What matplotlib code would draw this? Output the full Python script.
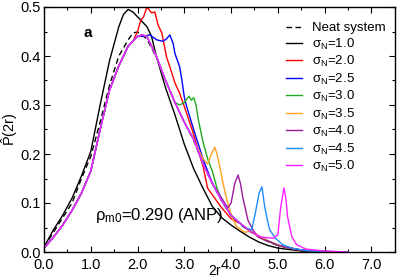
import matplotlib
matplotlib.use("Agg")
import matplotlib.pyplot as plt
from matplotlib.ticker import MultipleLocator, FormatStrFormatter

plt.rcParams['font.family'] = ['Liberation Sans', 'DejaVu Sans']
plt.rcParams['mathtext.fontset'] = 'custom'
plt.rcParams['mathtext.rm'] = 'Liberation Sans'
plt.rcParams['mathtext.it'] = 'Liberation Sans'
plt.rcParams['mathtext.bf'] = 'Liberation Sans:bold'

# ---- data ----
# shared profile of the high-sigma curves (before/after their own features)
base_x = [0.0, 0.2, 0.4, 0.6, 0.8, 1.0, 1.2, 1.4, 1.6, 1.8, 2.0, 2.1, 2.2, 2.4, 2.6, 2.8,
          3.0, 3.2, 3.4, 3.6, 3.8, 4.0, 4.2, 4.4, 4.6, 4.8, 5.0, 5.2, 5.5, 6.0, 6.5]
base_y = [0.008, 0.03, 0.055, 0.085, 0.12, 0.165, 0.25, 0.33, 0.38, 0.42, 0.44, 0.443, 0.44, 0.40, 0.35, 0.305,
          0.265, 0.23, 0.18, 0.14, 0.105, 0.075, 0.058, 0.043, 0.032, 0.022, 0.014, 0.009, 0.004, 0.001, 0.0]

neat_x = [0.0, 0.2, 0.4, 0.6, 0.8, 1.0, 1.2, 1.4, 1.6, 1.8, 1.9, 2.0, 2.2, 2.4, 2.6, 2.8,
          3.0, 3.2, 3.4, 3.6, 3.8, 4.0, 4.2, 4.4, 4.6, 4.8, 5.0, 5.5, 6.0]
neat_y = [0.01, 0.04, 0.07, 0.10, 0.15, 0.195, 0.265, 0.34, 0.40, 0.433, 0.447, 0.449, 0.435, 0.398, 0.35, 0.305,
          0.265, 0.228, 0.18, 0.14, 0.104, 0.074, 0.056, 0.042, 0.031, 0.021, 0.013, 0.004, 0.001]

s10_x = [0.0, 0.2, 0.4, 0.6, 0.8, 1.0, 1.2, 1.4, 1.6, 1.7, 1.8, 1.9, 2.0, 2.2, 2.3, 2.4, 2.6, 2.8,
         3.0, 3.2, 3.4, 3.6, 3.8, 4.0, 4.2, 4.4, 4.6, 4.8, 5.0, 5.5, 6.0]
s10_y = [0.01, 0.045, 0.075, 0.11, 0.155, 0.205, 0.30, 0.39, 0.46, 0.485, 0.495, 0.49, 0.48, 0.46, 0.44, 0.40, 0.335, 0.28,
         0.22, 0.17, 0.13, 0.093, 0.07, 0.055, 0.042, 0.03, 0.02, 0.013, 0.008, 0.002, 0.0]

s20_x = [1.9, 2.0, 2.07, 2.13, 2.2, 2.3, 2.37, 2.44, 2.52, 2.62, 2.69, 2.8, 2.9, 3.0, 3.2, 3.4, 3.5, 3.8, 4.0]
s20_y = [0.43, 0.45, 0.473, 0.48, 0.50, 0.488, 0.49, 0.463, 0.447, 0.398, 0.378, 0.345, 0.324, 0.297, 0.24, 0.175, 0.13, 0.09, 0.068]

s25_x = [2.1, 2.26, 2.41, 2.54, 2.62, 2.69, 2.76, 2.8, 2.9, 2.95, 3.0, 3.05, 3.2, 3.4]
s25_y = [0.44, 0.443, 0.433, 0.43, 0.435, 0.443, 0.426, 0.405, 0.378, 0.35, 0.316, 0.297, 0.25, 0.19]

s30_x = [2.9, 3.0, 3.1, 3.15, 3.2, 3.25, 3.3, 3.4, 3.5, 3.6, 3.7]
s30_y = [0.30, 0.305, 0.318, 0.31, 0.315, 0.30, 0.27, 0.225, 0.19, 0.165, 0.13]

s35_x = [3.4, 3.5, 3.58, 3.65, 3.7, 3.76, 3.83, 3.91, 4.02, 4.12, 4.3]
s35_y = [0.19, 0.18, 0.20, 0.214, 0.20, 0.173, 0.14, 0.106, 0.071, 0.051, 0.04]

s40_x = [3.8, 3.93, 4.0, 4.08, 4.15, 4.2, 4.25, 4.36, 4.47, 4.57, 4.7]
s40_y = [0.11, 0.09, 0.10, 0.14, 0.157, 0.14, 0.112, 0.065, 0.045, 0.031, 0.025]

s45_x = [4.3, 4.44, 4.52, 4.6, 4.66, 4.72, 4.8, 4.83, 4.94, 5.1, 5.3, 5.6, 6.0]
s45_y = [0.05, 0.045, 0.08, 0.12, 0.133, 0.092, 0.055, 0.045, 0.029, 0.015, 0.008, 0.003, 0.0]

s50_x = [4.7, 4.8, 4.9, 5.0, 5.06, 5.13, 5.17, 5.21, 5.3, 5.4, 5.6, 6.0, 6.5]
s50_y = [0.03, 0.029, 0.028, 0.035, 0.09, 0.131, 0.11, 0.071, 0.031, 0.015, 0.006, 0.002, 0.0]

labels = ['Neat system', r'$\sigma_\mathrm{N}$=1.0', r'$\sigma_\mathrm{N}$=2.0', r'$\sigma_\mathrm{N}$=2.5',
          r'$\sigma_\mathrm{N}$=3.0', r'$\sigma_\mathrm{N}$=3.5', r'$\sigma_\mathrm{N}$=4.0',
          r'$\sigma_\mathrm{N}$=4.5', r'$\sigma_\mathrm{N}$=5.0']
colors = ['black', 'black', '#ff0000', '#0000ff', '#22aa22', '#ffa020', '#9a1a9a', '#1e8cff', '#ff20ff']


def splice(seg_x, seg_y):
    """base profile before the segment, the segment, base profile after it"""
    xs = [x for x in base_x if x < seg_x[0]] + list(seg_x) + [x for x in base_x if x > seg_x[-1]]
    ys = [y for x, y in zip(base_x, base_y) if x < seg_x[0]] + list(seg_y) + \
         [y for x, y in zip(base_x, base_y) if x > seg_x[-1]]
    return xs, ys


series = [(neat_x, neat_y), (s10_x, s10_y), splice(s20_x, s20_y), splice(s25_x, s25_y),
          splice(s30_x, s30_y), splice(s35_x, s35_y), splice(s40_x, s40_y),
          splice(s45_x, s45_y), splice(s50_x, s50_y)]

fig = plt.figure(figsize=(3.99, 2.80), dpi=100)
ax = fig.add_axes([0.1103, 0.1, 0.879, 0.875])

for i, ((xs, ys), lab, c) in enumerate(zip(series, labels, colors)):
    if i == 0:
        ax.plot(xs, ys, color=c, lw=1.0, ls=(0, (4, 2.5)), label=lab)
    else:
        ax.plot(xs, ys, color=c, lw=1.0, label=lab)

ax.set_xlim(0, 7.5)
ax.set_ylim(0, 0.5)
ax.xaxis.set_major_locator(MultipleLocator(1.0))
ax.xaxis.set_minor_locator(MultipleLocator(0.5))
ax.yaxis.set_major_locator(MultipleLocator(0.1))
ax.yaxis.set_minor_locator(MultipleLocator(0.05))
ax.xaxis.set_major_formatter(FormatStrFormatter('%.1f'))
ax.yaxis.set_major_formatter(FormatStrFormatter('%.1f'))
ax.tick_params(which='both', direction='in', top=True, right=True, labelsize=10.5)
ax.tick_params(axis='x', pad=4.2)
ax.tick_params(axis='y', pad=2.2)
ax.tick_params(which='major', length=4.5, width=0.8)
ax.tick_params(which='minor', length=2.5, width=0.8)
for s in ax.spines.values():
    s.set_linewidth(1.0)

ax.set_xlabel('2r', fontsize=10)
ax.xaxis.set_label_coords(0.485, -0.049)
ax.set_ylabel(r'$\hat{\mathrm{P}}$(2r)', fontsize=10.5, labelpad=0)

ax.text(0.94, 0.447, 'a', fontsize=11, fontweight='bold', ha='center', va='center')
ax.text(1.09, 0.075, r'$\rho_\mathrm{m0}$=0.290 (ANP)', fontsize=12, ha='left', va='center')

ax.legend(loc='upper left', bbox_to_anchor=(0.659, 0.982), frameon=False, fontsize=9.5,
          handlelength=1.25, handletextpad=0.75, labelspacing=0.18, borderpad=0.3)

fig.savefig('out.png', dpi=100)
